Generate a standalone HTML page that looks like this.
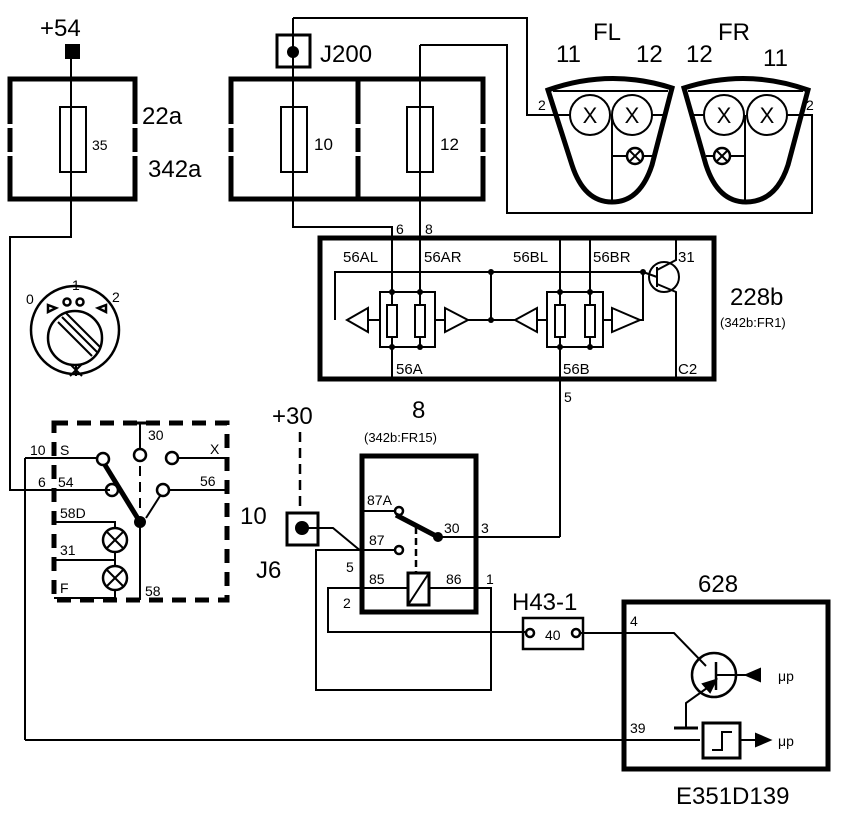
<!DOCTYPE html>
<html><head><meta charset="utf-8"><style>
html,body{margin:0;padding:0;background:#fff}
svg{display:block}
text{font-family:"Liberation Sans",Arial,sans-serif;fill:#000}
</style></head><body>
<svg width="864" height="818" viewBox="0 0 864 818" xmlns="http://www.w3.org/2000/svg">
<g fill="none" stroke="#000" stroke-width="2">
<rect x="66" y="45" width="13" height="13" fill="#000"/>
<polyline points="71,58 71,237 10,237 10,490 110,490"/>
<polyline points="25,740 700,740"/>
<polyline points="25,458 25,740"/>
<polyline points="25,458 98,458"/>
<rect x="10" y="79" width="125" height="120" stroke-width="5"/>
<rect x="60" y="107" width="26" height="65"/>
<rect x="231" y="79" width="252" height="120" stroke-width="5"/>
<line x1="358" y1="79" x2="358" y2="199" stroke-width="5"/>
<rect x="281" y="107" width="26" height="65"/>
<rect x="407" y="107" width="26" height="65"/>
<rect x="277" y="35" width="33" height="32" stroke-width="3"/>
<polyline points="293,18 293,227 392,227 392,380"/>
<polyline points="293,18 527,18 527,115 556,115"/>
<polyline points="420,45 420,347"/>
<polyline points="420,45 507,45 507,213 812,213 812,115 795,115"/>
<rect x="320" y="238" width="394" height="141" stroke-width="5"/>
<polyline points="335,320 335,272 643,272 643,320 640,320"/>
<line x1="491" y1="272" x2="491" y2="320"/>
<line x1="468" y1="320" x2="515" y2="320"/>
<polygon points="347,320 368,308 368,332"/>
<polygon points="468,320 445,308 445,332"/>
<polygon points="515,320 537,308 537,332"/>
<polygon points="640,320 612,308 612,332"/>
<polyline points="368,320 380,320"/>
<rect x="380" y="292" width="55" height="55"/>
<line x1="435" y1="320" x2="445" y2="320"/>
<rect x="387" y="305" width="10" height="32" fill="#fff"/>
<rect x="415" y="305" width="10" height="32" fill="#fff"/>
<line x1="537" y1="320" x2="547" y2="320"/>
<rect x="547" y="292" width="56" height="55"/>
<line x1="603" y1="320" x2="612" y2="320"/>
<line x1="560" y1="238" x2="560" y2="537"/>
<line x1="590" y1="238" x2="590" y2="347"/>
<rect x="555" y="305" width="10" height="32" fill="#fff"/>
<rect x="585" y="305" width="10" height="32" fill="#fff"/>
<circle cx="664" cy="277" r="15"/>
<line x1="643" y1="272" x2="657" y2="277"/>
<line x1="657" y1="267" x2="657" y2="287"/>
<polyline points="657,270 676,260 676,238"/>
<polyline points="657,284 676,292 676,379"/>
<polyline points="560,537 438,537"/>
<rect x="362" y="456" width="114" height="156" stroke-width="5"/>
<line x1="362" y1="511" x2="395" y2="511"/>
<circle cx="399" cy="511" r="4" stroke-width="2.5"/>
<line x1="396" y1="515" x2="438" y2="537" stroke-width="5"/>
<line x1="416" y1="527" x2="416" y2="572" stroke-dasharray="7,4" stroke-width="2.5"/>
<circle cx="399" cy="550" r="4" stroke-width="2.5"/>
<polyline points="395,550 316,550 316,690 491,690 491,588 429,588"/>
<rect x="408" y="573" width="21" height="32" stroke-width="3"/>
<line x1="408" y1="605" x2="429" y2="573"/>
<polyline points="408,588 328,588 328,632 526,632"/>
<line x1="300" y1="432" x2="300" y2="512" stroke-dasharray="10,6" stroke-width="2.5"/>
<rect x="287" y="513" width="31" height="32" stroke-width="3"/>
<polyline points="302,528 333,528 362,552"/>
<rect x="523" y="618" width="60" height="31" stroke-width="2.5"/>
<circle cx="530" cy="633" r="4" stroke-width="2.5"/>
<circle cx="576" cy="633" r="4" stroke-width="2.5"/>
<polyline points="580,633 674,633 706,666"/>
<rect x="624" y="602" width="204" height="167" stroke-width="5"/>
<circle cx="714" cy="675" r="22" stroke-width="2.5"/>
<line x1="716" y1="662" x2="716" y2="690" stroke-width="2.5"/>
<line x1="716" y1="675" x2="760" y2="675"/>
<polygon points="746,675 760,669 760,681" fill="#000"/>
<polyline points="714,683 686,703 686,728"/>
<polygon points="716,680 703,684 710,692" fill="#000"/>
<line x1="674" y1="728" x2="698" y2="728" stroke-width="3"/>
<rect x="703" y="723" width="37" height="35" stroke-width="3"/>
<polyline points="712,750 722,750 722,732 732,732"/>
<line x1="740" y1="740" x2="758" y2="740"/>
<polygon points="770,740 756,734 756,746" fill="#000"/>
<rect x="54" y="423" width="173" height="177" stroke-width="5" stroke-dasharray="14,9"/>
<circle cx="103" cy="459" r="6" stroke-width="2.5"/>
<circle cx="112" cy="490" r="6" stroke-width="2.5"/>
<line x1="105" y1="465" x2="140" y2="522" stroke-width="5"/>
<line x1="140" y1="423" x2="140" y2="449"/>
<line x1="130" y1="423" x2="150" y2="423" stroke-width="3"/>
<circle cx="140" cy="455" r="6" stroke-width="2.5"/>
<line x1="140" y1="466" x2="140" y2="512" stroke-dasharray="10,6"/>
<circle cx="172" cy="458" r="6" stroke-width="2.5"/>
<line x1="178" y1="458" x2="227" y2="458"/>
<circle cx="163" cy="490" r="6" stroke-width="2.5"/>
<line x1="169" y1="490" x2="227" y2="490"/>
<line x1="160" y1="496" x2="146" y2="518"/>
<line x1="140" y1="522" x2="140" y2="600"/>
<polyline points="54,522 115,522 115,527"/>
<circle cx="115" cy="540" r="12" stroke-width="2.5"/>
<line x1="107" y1="532" x2="123" y2="548"/><line x1="123" y1="532" x2="107" y2="548"/>
<polyline points="54,560 115,560 115,552"/>
<line x1="115" y1="560" x2="115" y2="566"/>
<circle cx="115" cy="578" r="12" stroke-width="2.5"/>
<line x1="107" y1="570" x2="123" y2="586"/><line x1="123" y1="570" x2="107" y2="586"/>
<polyline points="54,598 115,598 115,590"/>
<circle cx="75" cy="330" r="44" stroke-width="2.5"/>
<circle cx="75" cy="338" r="27" stroke-width="2.5"/>
<line x1="58" y1="322" x2="92" y2="356" stroke-width="2"/>
<line x1="62" y1="317" x2="97" y2="352" stroke-width="2"/>
<line x1="66" y1="313" x2="100" y2="347" stroke-width="2"/>
<circle cx="67" cy="302" r="3.5" stroke-width="2.5"/>
<circle cx="80" cy="302" r="3.5" stroke-width="2.5"/>
<path d="M48,305 L56,308 L48,312 Z" stroke-width="2.5"/>
<path d="M106,305 L98,308 L106,312 Z" stroke-width="2.5"/>
<line x1="70" y1="364" x2="82" y2="376"/><line x1="82" y1="364" x2="70" y2="376"/><line x1="76" y1="364" x2="76" y2="376"/>
<path d="M548,90 Q610,68 672,88 L652,165 Q640,202 612,202 Q584,202 572,165 Z" stroke-width="5"/>
<line x1="553" y1="91" x2="668" y2="91"/>
<circle cx="590" cy="115" r="20"/><circle cx="632" cy="115" r="20"/>
<line x1="556" y1="115" x2="570" y2="115"/><line x1="652" y1="115" x2="664" y2="115"/>
<line x1="612" y1="115" x2="612" y2="202"/>
<circle cx="635" cy="156" r="8" stroke-width="2.5"/>
<line x1="629" y1="150" x2="641" y2="162"/><line x1="641" y1="150" x2="629" y2="162"/>
<line x1="612" y1="156" x2="627" y2="156"/><line x1="643" y1="156" x2="652" y2="156"/>
<path d="M684,88 Q746,68 808,90 L788,165 Q776,202 746,202 Q718,202 706,165 Z" stroke-width="5"/>
<line x1="688" y1="91" x2="803" y2="91"/>
<circle cx="724" cy="115" r="20"/><circle cx="767" cy="115" r="20"/>
<line x1="692" y1="115" x2="704" y2="115"/><line x1="787" y1="115" x2="800" y2="115"/>
<line x1="745" y1="115" x2="745" y2="202"/>
<circle cx="722" cy="156" r="8" stroke-width="2.5"/>
<line x1="716" y1="150" x2="728" y2="162"/><line x1="728" y1="150" x2="716" y2="162"/>
<line x1="745" y1="156" x2="730" y2="156"/><line x1="714" y1="156" x2="706" y2="156"/>
</g>
<g fill="#000">
<circle cx="293" cy="52" r="6"/>
<circle cx="302" cy="528" r="7"/>
<circle cx="140" cy="522" r="6"/>
<circle cx="438" cy="537" r="5"/>
<circle cx="392" cy="292" r="3"/><circle cx="420" cy="292" r="3"/>
<circle cx="392" cy="347" r="3"/><circle cx="420" cy="347" r="3"/>
<circle cx="560" cy="292" r="3"/><circle cx="590" cy="292" r="3"/>
<circle cx="560" cy="347" r="3"/><circle cx="590" cy="347" r="3"/>
<circle cx="491" cy="272" r="3"/><circle cx="491" cy="320" r="3"/><circle cx="643" cy="272" r="3"/>
</g>
<g fill="#fff">
<rect x="4" y="124" width="12" height="4"/><rect x="4" y="152" width="12" height="4"/>
<rect x="129" y="124" width="12" height="4"/><rect x="129" y="152" width="12" height="4"/>
<rect x="225" y="124" width="12" height="4"/><rect x="225" y="152" width="12" height="4"/>
<rect x="352" y="124" width="12" height="4"/><rect x="352" y="152" width="12" height="4"/>
<rect x="477" y="124" width="12" height="4"/><rect x="477" y="152" width="12" height="4"/>
</g>
<g font-size="22" text-anchor="middle">
<text x="590" y="123">X</text><text x="632" y="123">X</text>
<text x="724" y="123">X</text><text x="767" y="123">X</text>
</g>
<g font-size="24">
<text x="40" y="36">+54</text>
<text x="142" y="124">22a</text>
<text x="148" y="177">342a</text>
<text x="320" y="62">J200</text>
<text x="556" y="62">11</text><text x="593" y="40">FL</text><text x="636" y="62">12</text>
<text x="686" y="62">12</text><text x="718" y="40">FR</text><text x="763" y="66">11</text>
<text x="730" y="305">228b</text>
<text x="412" y="418">8</text>
<text x="272" y="424">+30</text>
<text x="240" y="524">10</text>
<text x="256" y="578">J6</text>
<text x="512" y="610">H43-1</text>
<text x="698" y="592">628</text>
<text x="676" y="804">E351D139</text>
</g>
<g font-size="14">
<text x="92" y="150" font-size="14">35</text>
<text x="314" y="150" font-size="17">10</text><text x="440" y="150" font-size="17">12</text>
<text x="538" y="110">2</text><text x="806" y="110">2</text>
<text x="396" y="234">6</text><text x="425" y="234">8</text>
<text x="343" y="262" font-size="15">56AL</text><text x="424" y="262" font-size="15">56AR</text>
<text x="513" y="262" font-size="15">56BL</text><text x="593" y="262" font-size="15">56BR</text><text x="678" y="262" font-size="15">31</text>
<text x="396" y="374" font-size="15">56A</text><text x="563" y="374" font-size="15">56B</text><text x="678" y="374" font-size="15">C2</text>
<text x="720" y="327" font-size="13">(342b:FR1)</text>
<text x="364" y="442" font-size="13">(342b:FR15)</text>
<text x="564" y="402">5</text>
<text x="367" y="505">87A</text><text x="369" y="545">87</text>
<text x="369" y="584">85</text><text x="446" y="584">86</text>
<text x="444" y="533">30</text><text x="481" y="533">3</text><text x="486" y="584">1</text>
<text x="346" y="572">5</text><text x="343" y="608">2</text>
<text x="545" y="640">40</text>
<text x="630" y="626">4</text><text x="630" y="733">39</text>
<text x="778" y="681">μp</text><text x="778" y="746">μp</text>
<text x="30" y="455">10</text><text x="60" y="455">S</text>
<text x="38" y="487">6</text><text x="58" y="487">54</text>
<text x="148" y="440">30</text><text x="210" y="454">X</text><text x="200" y="486">56</text>
<text x="60" y="518">58D</text><text x="60" y="555">31</text><text x="60" y="593">F</text>
<text x="145" y="596">58</text>
<text x="26" y="304">0</text><text x="72" y="290">1</text><text x="112" y="302">2</text>
</g>
</svg>
</body></html>
